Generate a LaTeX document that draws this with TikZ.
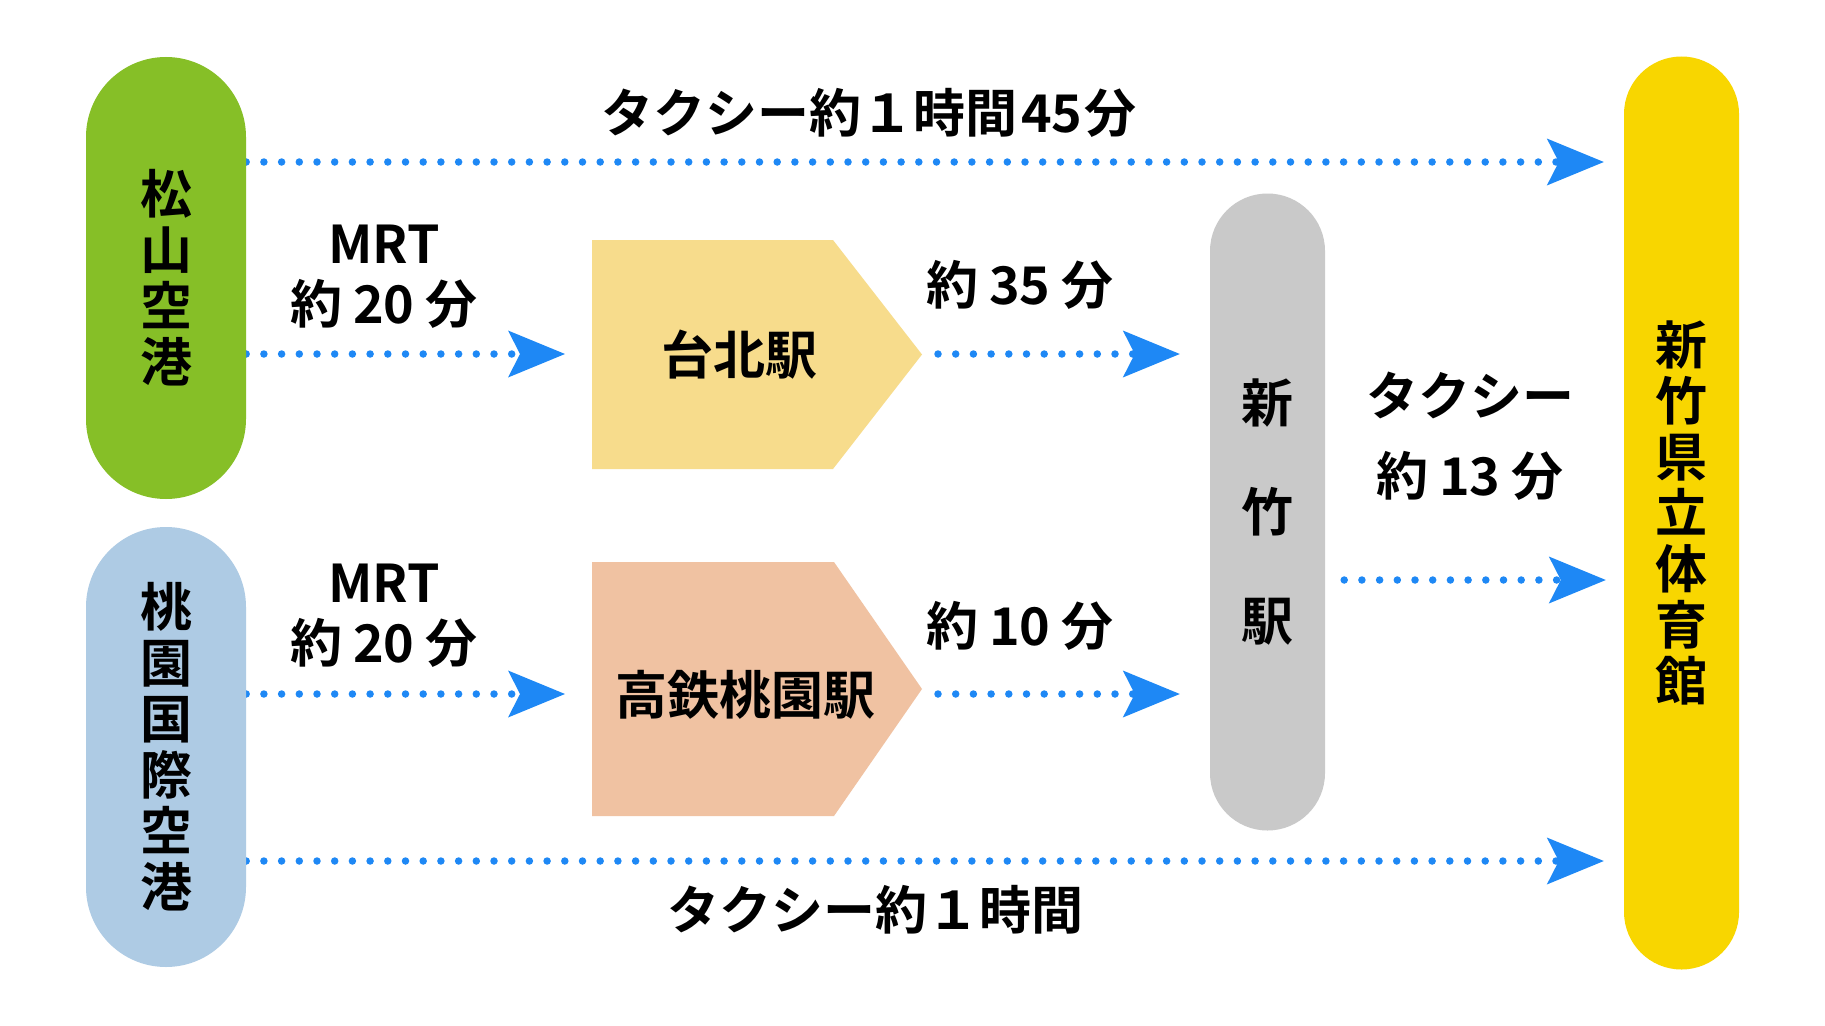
\documentclass[tikz,border=0pt]{standalone}
\usepackage{fontspec}
\newfontfamily\jp{Noto Sans CJK JP}[BoldFont={* Bold}]
\usetikzlibrary{arrows.meta}
\definecolor{ssgreen}{RGB}{134,191,39}
\definecolor{tyblue}{RGB}{174,203,228}
\definecolor{gymyellow}{RGB}{248,214,0}
\definecolor{hsgray}{RGB}{201,201,201}
\definecolor{tpfill}{RGB}{247,220,140}
\definecolor{hrfill}{RGB}{240,194,162}
\definecolor{arrowblue}{RGB}{30,136,245}
\pgfdeclarelayer{back}
\pgfdeclarelayer{bg}
\pgfsetlayers{back,bg,main}
\newcommand{\dg}[1]{\hspace{11pt}#1\hspace{11pt}}
\tikzset{
  pill/.style={fill=#1, inner sep=0pt, align=center,
    font=\jp\bfseries\fontsize{52}{56}\selectfont},
  lbl/.style={inner sep=0pt, align=center,
    font=\jp\bfseries\fontsize{52}{60}\selectfont},
  conn/.style={draw=arrowblue, line width=7.5pt, line cap=round,
    dash pattern=on 0pt off 17.7pt,
    -{Stealth[length=57pt, width=47pt, inset=12pt, line width=0pt, fill=arrowblue]}},
}
\begin{document}
\begin{tikzpicture}[x=1pt,y=-1pt]
\useasboundingbox (0,0) rectangle (1825,1025);
\begin{pgfonlayer}{back}
\fill[white] (0,0) rectangle (1825,1025);
\end{pgfonlayer}
% pills
\node[pill=ssgreen, minimum width=160pt, minimum height=442pt, rounded corners=80pt] (ss) at (166,278) {松\\山\\空\\港};
\node[pill=tyblue, minimum width=160pt, minimum height=440pt, rounded corners=80pt] (ty) at (166,747) {桃\\園\\国\\際\\空\\港};
\node[pill=hsgray, minimum width=115pt, minimum height=637pt, rounded corners=57.5pt,
  font=\jp\bfseries\fontsize{52}{109}\selectfont] (hs) at (1267.5,512) {新\\竹\\駅};
\node[pill=gymyellow, minimum width=115pt, minimum height=913pt, rounded corners=57.5pt] (gym) at (1681.5,513) {新\\竹\\県\\立\\体\\育\\館};
% pentagons
\fill[tpfill] (592,240) -- (833,240) -- (922,354.5) -- (833,469) -- (592,469) -- cycle;
\coordinate (tpW) at (592,354);
\coordinate (tpE) at (922,354);
\node[lbl] (tp) at (739,355) {台北駅};
\fill[hrfill] (592,562) -- (834,562) -- (922,689) -- (834,816) -- (592,816) -- cycle;
\coordinate (hrW) at (592,694);
\coordinate (hrE) at (922,694);
\node[lbl] (hr) at (745,695) {高鉄桃園駅};
% rows
\coordinate (r1) at (0,162);
\coordinate (r4) at (0,580);
\coordinate (r5) at (0,861);
% labels
\node[lbl] (t1) at (869,113) {タクシー約１時間\hspace{4pt}45\hspace{2pt}分};
\node[lbl] (m1) at (384,277) {MRT\\約\dg{20}分};
\node[lbl] (d1) at (1020,285) {約\dg{35}分};
\node[lbl, font=\jp\bfseries\fontsize{52}{80}\selectfont] (tx) at (1470,436) {タクシー\\約\dg{13}分};
\node[lbl] (m2) at (384,616) {MRT\\約\dg{20}分};
\node[lbl] (d2) at (1020,626) {約\dg{10}分};
\node[lbl] (t2) at (875,910) {タクシー約１時間};
% connectors
\begin{pgfonlayer}{bg}
\draw[conn, shorten >=20pt] (ss.east |- r1) -- (gym.west |- r1);
\draw[conn, shorten >=27pt] (ss.east |- tpW) -- (tpW);
\draw[conn, shorten <=16pt, shorten >=30pt] (tpE) -- (hs.west |- tpE);
\draw[conn, shorten >=27pt] (ty.east |- hrW) -- (hrW);
\draw[conn, shorten <=16pt, shorten >=30pt] (hrE) -- (hs.west |- hrE);
\draw[conn, shorten <=19pt, shorten >=18pt] (hs.east |- r4) -- (gym.west |- r4);
\draw[conn, shorten >=20pt] (ty.east |- r5) -- (gym.west |- r5);
\end{pgfonlayer}
\end{tikzpicture}
\end{document}
